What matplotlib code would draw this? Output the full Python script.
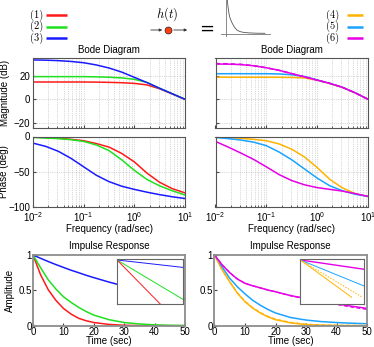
import numpy as np
import matplotlib
matplotlib.use('Agg')
import matplotlib.pyplot as plt

plt.rcParams['font.family'] = ['Liberation Sans', 'DejaVu Sans']
plt.rcParams['mathtext.fontset'] = 'custom'
plt.rcParams['mathtext.rm'] = 'Liberation Sans'
plt.rcParams['mathtext.it'] = 'Liberation Sans:italic'
plt.rcParams['font.size'] = 7

# === Data ===
w_bode = [0.01, 0.0178, 0.0316, 0.0562, 0.1, 0.178, 0.316, 0.562, 1.0, 1.78, 3.16, 5.62, 10.0]

mag_1 = [14.8, 14.8, 14.8, 14.8, 14.8, 14.7, 14.5, 14.2, 13.6, 12.3, 9.0, 4.5, 0.0]
mag_2 = [19.4, 19.4, 19.4, 19.4, 19.4, 19.2, 18.9, 18.3, 17.1, 14.4, 9.4, 4.7, 0.0]
mag_3 = [33.7, 33.5, 33.1, 32.4, 31.3, 29.4, 26.8, 23.3, 18.8, 14.3, 9.4, 4.7, 0.0]
phase_1 = [-0.8, -1.5, -2.5, -4, -6, -10, -15, -24, -36, -52, -65, -74, -80]
phase_2 = [-1.4, -2.2, -3, -4.5, -7, -12, -20, -33, -48, -61, -70, -77, -83]
phase_3 = [-9.4, -14, -21, -31, -43, -55, -64, -70.5, -75, -79, -82.5, -85.5, -88]

mag_4 = [18.9, 18.9, 18.9, 18.9, 18.9, 18.8, 18.7, 18.3, 16.3, 13.4, 10.0, 5.4, 0.0]
mag_5 = [21.9, 21.9, 21.9, 21.9, 21.9, 21.7, 21.0, 19.6, 16.6, 13.6, 10.2, 5.5, 0.0]
mag_6 = [30.2, 30.1, 29.7, 28.7, 27.0, 24.8, 22.0, 19.2, 16.4, 13.6, 10.2, 5.5, 0.0]
mag_6_fit = [30.6, 30.4, 29.9, 28.8, 27.0, 24.8, 22.0, 19.2, 16.4, 13.6, 10.2, 5.5, 0.0]
phase_4 = [-0.5, -1.5, -2.6, -4, -6, -10.5, -18, -29, -44, -61, -73, -81, -85]
phase_5 = [-1.4, -3, -5, -8, -13, -22, -33, -46, -59, -70, -77, -82, -85]
phase_6 = [-7, -15, -23.5, -32.5, -43, -54, -62.5, -68.5, -72.5, -75, -77.5, -81, -85]

t_imp = [0, 2.5, 5, 7.5, 10, 12.5, 15, 17.5, 20, 25, 30, 35, 40, 45, 50]
imp_1 = [1, 0.72, 0.51, 0.36, 0.245, 0.165, 0.105, 0.07, 0.045, 0.018, 0.006, 0.002, 0.001, 0, 0]
imp_2 = [1, 0.82, 0.65, 0.52, 0.41, 0.33, 0.26, 0.2, 0.15, 0.085, 0.045, 0.025, 0.012, 0.006, 0.003]
imp_3 = [1, 0.953, 0.908, 0.865, 0.825, 0.785, 0.75, 0.713, 0.68, 0.617, 0.56, 0.508, 0.46, 0.418, 0.38]
imp_4 = [1, 0.79, 0.62, 0.46, 0.34, 0.25, 0.18, 0.125, 0.085, 0.04, 0.015, 0.006, 0.002, 0.001, 0]
imp_4_fit = [1, 0.79, 0.62, 0.465, 0.345, 0.255, 0.187, 0.132, 0.092, 0.047, 0.022, 0.012, 0.007, 0.005, 0.004]
imp_5 = [1, 0.83, 0.67, 0.55, 0.45, 0.36, 0.29, 0.23, 0.18, 0.115, 0.08, 0.058, 0.045, 0.035, 0.028]
imp_6 = [1, 0.86, 0.75, 0.66, 0.6, 0.565, 0.535, 0.505, 0.48, 0.425, 0.385, 0.345, 0.31, 0.275, 0.245]
imp_6_fit = [1, 0.86, 0.75, 0.66, 0.6, 0.565, 0.535, 0.505, 0.48, 0.423, 0.38, 0.338, 0.3, 0.263, 0.23]

# inset zooms (normalised log view near t=0)
ins_x_1 = [0, 0.66]
ins_y_1 = [0.985, 0.0]
ins_x_2 = [0, 1]
ins_y_2 = [0.985, 0.11]
ins_x_3 = [0, 1]
ins_y_3 = [0.985, 0.82]
ins_x_4 = [0, 0.81]
ins_y_4 = [0.985, 0.156]
ins_x_4_fit = [0, 0.98]
ins_y_4_fit = [0.985, 0.156]
ins_x_5 = [0, 1]
ins_y_5 = [0.985, 0.41]
ins_x_6 = [0, 1]
ins_y_6 = [0.985, 0.78]

# small h(t) sketch in the header
sketch_t = [1.3, 2, 3, 4, 6, 8, 10.7, 14, 18, 24, 32, 39]
sketch_h = [1.0, 0.8, 0.6, 0.47, 0.33, 0.22, 0.12, 0.07, 0.045, 0.03, 0.022, 0.02]

labels_left = ['(1)', '(2)', '(3)']
labels_right = ['(4)', '(5)', '(6)']
colors_left = ['#ff1a1a', '#1fe01f', '#1a1aff']
colors_right = ['#ffb300', '#1aa3ff', '#e600e6']

W, H = 374, 347
fig = plt.figure(figsize=(W / 100, H / 100), dpi=100)


def box(x0, y0, x1, y1):
    return [x0 / W, 1 - y1 / H, (x1 - x0) / W, (y1 - y0) / H]


def style_bode(ax):
    ax.set_xscale('log')
    ax.set_xlim(0.01, 10)
    ax.grid(True, which='both', ls=':', lw=0.5, color='#b4b4b4')
    ax.tick_params(which='major', direction='in', length=2.5, labelsize=7, color='#444444', pad=2)
    ax.tick_params(which='minor', direction='in', length=1.5, color='#444444')
    for s in ax.spines.values():
        s.set_color('#555555')
        s.set_linewidth(0.8)


def style_imp(ax):
    ax.set_xlim(0, 50)
    ax.set_ylim(0, 1)
    ax.set_xticks([0, 10, 20, 30, 40, 50])
    ax.set_yticks([0, 0.5, 1])
    ax.set_yticklabels(['0', '0.5', '1'])
    ax.tick_params(direction='in', length=2.5, labelsize=7, color='#444444', pad=1)
    for s in ax.spines.values():
        s.set_color('#8c8c8c')
        s.set_linewidth(1.3)
    ax.set_title('Impulse Response', fontsize=7, pad=4)
    ax.set_xlabel('Time (sec)', fontsize=7)
    ax.xaxis.set_label_coords(0.5, -0.145)


def style_inset(ax):
    ax.set_xlim(0, 1)
    ax.set_ylim(0, 1)
    ax.set_xticks([])
    ax.set_yticks([])
    for s in ax.spines.values():
        s.set_color('#666666')
        s.set_linewidth(0.8)


# === Bode, left ===
ax_m1 = fig.add_axes(box(33, 58.3, 185, 128))
for y, c in zip([mag_1, mag_2, mag_3], colors_left):
    ax_m1.plot(w_bode, y, color=c, lw=1.1)
style_bode(ax_m1)
ax_m1.set_ylim(-24.6, 35.1)
ax_m1.set_yticks([-20, 0, 20])
ax_m1.tick_params(labelbottom=False)
ax_m1.set_title('Bode Diagram', fontsize=7, pad=4)
ax_m1.set_ylabel('Magnitude (dB)', fontsize=7)
ax_m1.yaxis.set_label_coords(-0.15, 0.5)

ax_p1 = fig.add_axes(box(33, 136.5, 185, 207))
for y, c in zip([phase_1, phase_2, phase_3], colors_left):
    ax_p1.plot(w_bode, y, color=c, lw=1.1)
style_bode(ax_p1)
ax_p1.set_ylim(-100, 0)
ax_p1.set_yticks([-100, -50, 0])
ax_p1.set_ylabel('Phase (deg)', fontsize=7)
ax_p1.yaxis.set_label_coords(-0.155, 0.5)
ax_p1.set_xlabel('Frequency (rad/sec)', fontsize=7)
ax_p1.xaxis.set_label_coords(0.5, -0.24)

# === Bode, right ===
ax_m2 = fig.add_axes(box(215.5, 58.3, 368, 128))
for y, c in zip([mag_4, mag_5, mag_6], colors_right):
    ax_m2.plot(w_bode, y, color=c, lw=1.1)
ax_m2.plot(w_bode, mag_6_fit, color=colors_right[2], lw=1.1, ls=(0, (3, 2)))
style_bode(ax_m2)
ax_m2.set_ylim(-24.6, 35.1)
ax_m2.set_yticks([-20, 0, 20])
ax_m2.tick_params(labelbottom=False, labelleft=False)
ax_m2.set_title('Bode Diagram', fontsize=7, pad=4)

ax_p2 = fig.add_axes(box(215.5, 136.5, 368, 207))
for y, c in zip([phase_4, phase_5, phase_6], colors_right):
    ax_p2.plot(w_bode, y, color=c, lw=1.1)
style_bode(ax_p2)
ax_p2.set_ylim(-100, 0)
ax_p2.set_yticks([-100, -50, 0])
ax_p2.tick_params(labelleft=False)
ax_p2.set_xlabel('Frequency (rad/sec)', fontsize=7)
ax_p2.xaxis.set_label_coords(0.5, -0.24)

# === Impulse responses ===
ax_i1 = fig.add_axes(box(33, 255, 185, 325.7))
for y, c in zip([imp_1, imp_2, imp_3], colors_left):
    ax_i1.plot(t_imp, y, color=c, lw=1.1)
style_imp(ax_i1)
ax_i1.set_ylabel('Amplitude', fontsize=7)
ax_i1.yaxis.set_label_coords(-0.118, 0.5)

ax_i2 = fig.add_axes(box(214.5, 255, 367, 325.7))
for y, c in zip([imp_4, imp_5, imp_6], colors_right):
    ax_i2.plot(t_imp, y, color=c, lw=1.1)
ax_i2.plot(t_imp, imp_4_fit, color=colors_right[0], lw=0.9, ls=(0, (3, 2)))
ax_i2.plot(t_imp, imp_6_fit, color=colors_right[2], lw=0.9, ls=(0, (3, 2)))
style_imp(ax_i2)

# insets
ax_n1 = fig.add_axes(box(117, 259.3, 183, 304.3))
ax_n1.plot(ins_x_3, ins_y_3, color=colors_left[2], lw=0.7)
ax_n1.plot(ins_x_2, ins_y_2, color=colors_left[1], lw=0.7)
ax_n1.plot(ins_x_1, ins_y_1, color=colors_left[0], lw=0.7)
style_inset(ax_n1)

ax_n2 = fig.add_axes(box(300.3, 259.3, 363.7, 304.3))
ax_n2.plot(ins_x_6, ins_y_6, color=colors_right[2], lw=1.0)
ax_n2.plot(ins_x_5, ins_y_5, color=colors_right[1], lw=0.7)
ax_n2.plot(ins_x_4, ins_y_4, color=colors_right[0], lw=0.7)
ax_n2.plot(ins_x_4_fit, ins_y_4_fit, color=colors_right[0], lw=0.7, ls=(0, (1.5, 1.5)))
style_inset(ax_n2)

# === Header ===
ax_h = fig.add_axes([0, 0, 1, 1])
ax_h.set_xlim(0, W)
ax_h.set_ylim(H, 0)
ax_h.axis('off')

for i, (lab, c) in enumerate(zip(labels_left, colors_left)):
    yy = 15 + i * 11.5
    ax_h.text(37, yy, lab, family='cmr10', fontsize=7.5, ha='center', va='center')
    ax_h.plot([46, 67], [yy, yy], color=c, lw=1.8, solid_capstyle='butt')
for i, (lab, c) in enumerate(zip(labels_right, colors_right)):
    yy = 15 + i * 11.5
    ax_h.text(332.5, yy, lab, family='cmr10', fontsize=7.5, ha='center', va='center')
    ax_h.plot([347, 363], [yy, yy], color=c, lw=1.8, solid_capstyle='butt')

ax_h.text(167.5, 14, '$h(t)$', math_fontfamily='cm', fontsize=9, ha='center', va='center')
ax_h.annotate('', xy=(165, 30), xytext=(148, 30),
              arrowprops=dict(arrowstyle='-|>', color='#333333', lw=0.6, mutation_scale=4))
ax_h.annotate('', xy=(190, 30), xytext=(171, 30),
              arrowprops=dict(arrowstyle='-|>', color='#333333', lw=0.6, mutation_scale=4))
ax_h.plot([168], [30], 'o', color='#ff3d0d', markeredgecolor='#222222', markeredgewidth=0.5, markersize=5)
ax_h.text(206.5, 29, '=', fontsize=13, ha='center', va='center', family='DejaVu Sans')

ax_s = fig.add_axes(box(221, 0, 271, 36.7))
ax_s.set_xlim(-5, 45)
ax_s.set_ylim(-0.08, 1.0)
ax_s.axis('off')
ax_s.axhline(0, color='#777777', lw=0.6)
ax_s.axvline(0, color='#777777', lw=0.6)
ax_s.plot(sketch_t, sketch_h, color='#555555', lw=0.6)

plt.savefig('out.png', dpi=100)
